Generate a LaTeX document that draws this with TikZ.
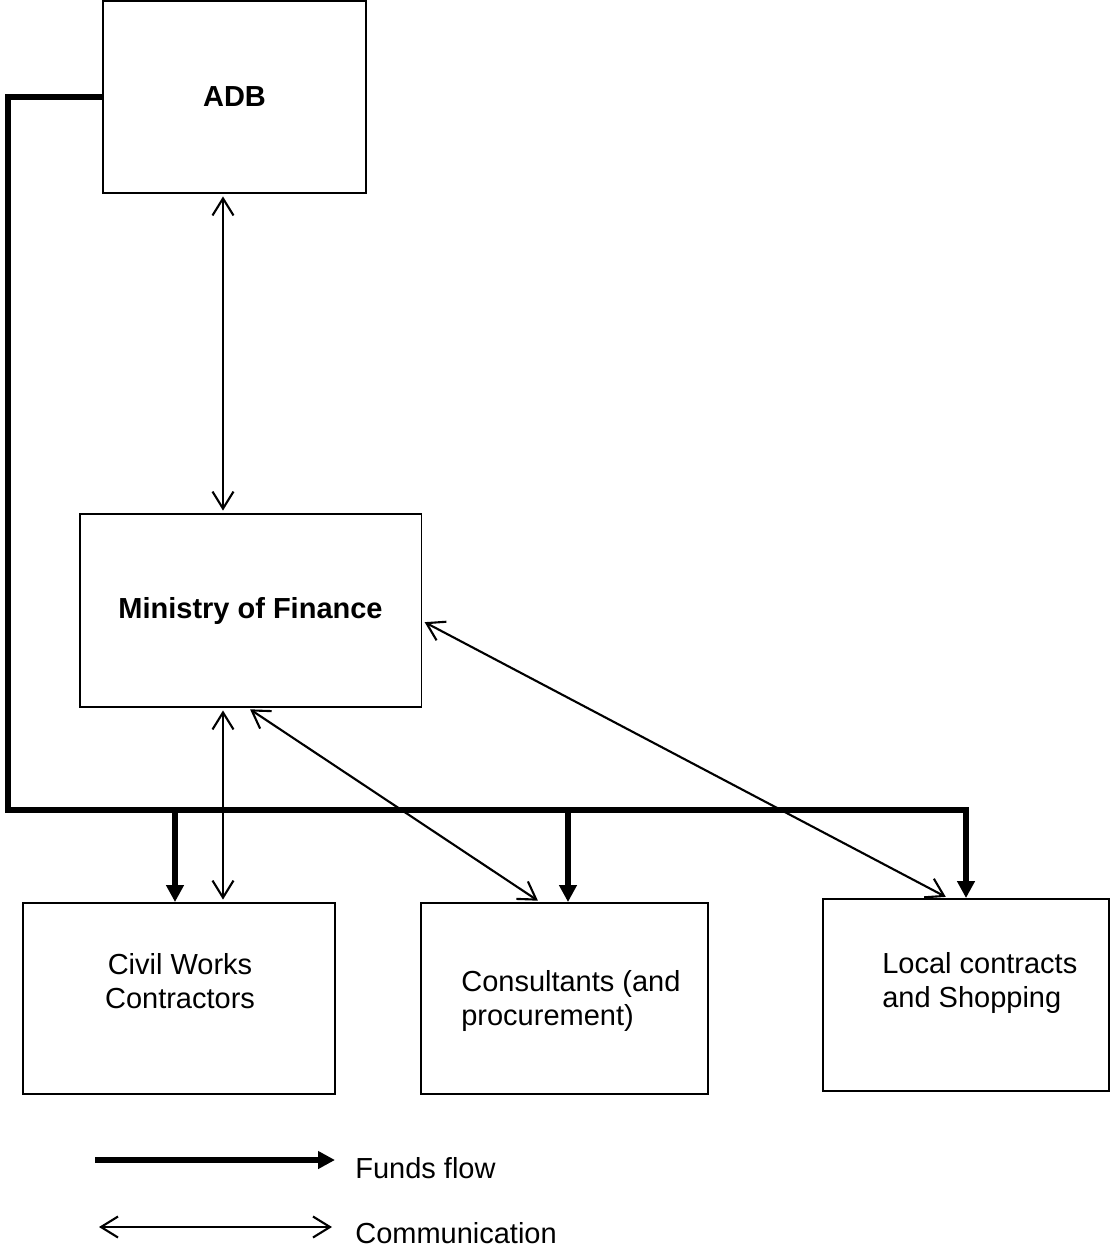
\documentclass[tikz,border=0pt]{standalone}
\usepackage{fontspec}
\setmainfont{Liberation Sans}
\usetikzlibrary{arrows.meta}

\begin{document}
\begin{tikzpicture}[x=0.02cm, y=-0.02cm,
        txt/.style={inner sep=0pt, font=\fontsize{16.5}{19.3}\selectfont},
        box/.style={draw, line width=1.1pt, inner sep=0pt, font=\fontsize{16.5}{19.3}\selectfont\bfseries},
        funds/.style={line width=3pt, -{Triangle[length=0.34cm, width=0.34cm]}},
        comm/.style={line width=1.2pt, shorten <=0.05cm, shorten >=0.05cm,
            {Straight Barb[length=0.34cm, width=0.42cm]}-{Straight Barb[length=0.34cm, width=0.42cm]}}]
        \useasboundingbox (0,0) rectangle (1112,1255);

        \node[box, minimum width=5.26cm, minimum height=3.84cm] (adb) at (234.5,97) {ADB};
        \node[box, minimum width=6.84cm, minimum height=3.86cm] (mof) at (250.5,610.5) {Ministry of Finance};
        \node[box, minimum width=6.24cm, minimum height=3.82cm] (civil) at (179,998.5) {};
        \node[box, minimum width=5.74cm, minimum height=3.82cm] (cons) at (564.5,998.5) {};
        \node[box, minimum width=5.72cm, minimum height=3.84cm] (local) at (966,995) {};

        \node[txt, align=center, anchor=north] (civiltxt) at (180,953) {Civil Works\\Contractors};
        \node[txt, align=left, anchor=north west] (constxt) at (461,970) {Consultants (and\\procurement)};
        \node[txt, align=left, anchor=north west] (localtxt) at (882,952) {Local contracts\\and Shopping};

        % funds flow
        \coordinate (busw) at (8,810);
        \coordinate (buse) at (966,810);
        \coordinate (b1) at (175,810);
        \coordinate (b2) at (568,810);
        \draw[funds] (adb.west) -| (busw) -- (buse) -- (buse |- local.north);
        \draw[funds] (b1) -- (b1 |- civil.north);
        \draw[funds] (b2) -- (b2 |- cons.north);

        % communication
        \coordinate (v1) at (223,810);
        \draw[comm] (adb.south -| v1) -- (mof.north -| v1);
        \draw[comm] (mof.south -| v1) -- (civil.north -| v1);
        \draw[comm] ([xshift=-0.05cm]mof.south) -- ([xshift=-0.49cm]cons.north);
        \draw[comm] ([yshift=-0.21cm]mof.east) -- ([xshift=-0.36cm]local.north);

        % legend
        \coordinate (f1) at (95,1160);
        \coordinate (f2) at (335,1160);
        \coordinate (c1) at (99,1227);
        \coordinate (c2) at (332,1227);
        \draw[funds] (f1) -- (f2);
        \draw[comm, shorten <=0pt, shorten >=0pt] (c1) -- (c2);
        \node[txt, anchor=base west] (fundstxt) at (355,1178) {Funds flow};
        \node[txt, anchor=base west] (commtxt) at (355,1243) {Communication};
\end{tikzpicture}
\end{document}
